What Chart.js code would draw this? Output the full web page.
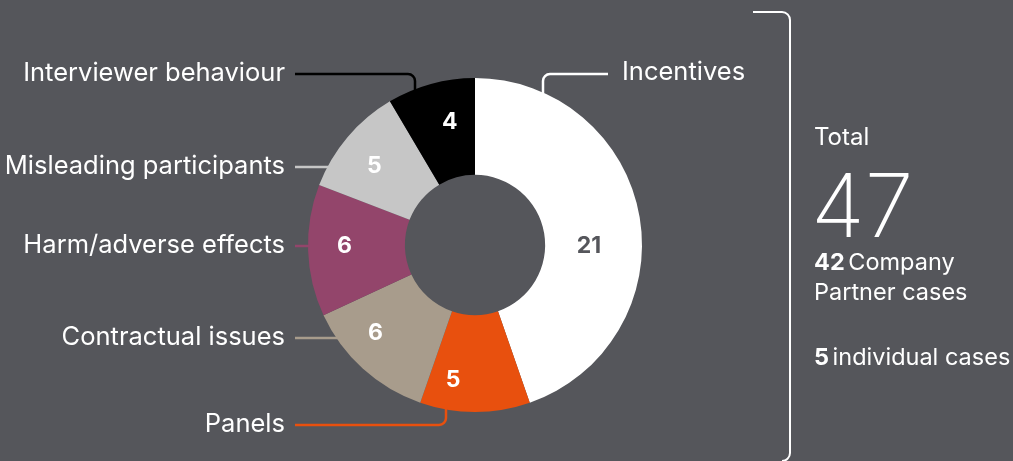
<!DOCTYPE html>
<html>
<head>
<meta charset="utf-8">
<script src="https://cdn.jsdelivr.net/npm/chart.js@4"></script>
<style>
  html, body { margin: 0; padding: 0; background: #55565b; overflow: hidden; }
  #wrap { position: relative; width: 1013px; height: 461px; }
  canvas { position: absolute; left: 0; top: 0; }
</style>
</head>
<body>
<div id="wrap"><canvas id="donut" width="1013" height="461"></canvas></div>
<script>
var categories = ["Incentives", "Panels", "Contractual issues", "Harm/adverse effects", "Misleading participants", "Interviewer behaviour"];
var cases = [21, 5, 6, 6, 5, 4];
var colours = ["#ffffff", "#e8500e", "#a89c8c", "#93456b", "#c6c6c6", "#000000"];
var totalLabel = "Total";
var totalCases = 47;
var companyCases = 42;
var individualCases = 5;

var FONT = "Inter, 'Noto Sans', sans-serif";
var BG = "#55565b";

// nudges for the value labels, from the centre of each slice
var valueNudge = [[-3, 21], [-22, 17], [-20, 0], [-12, -3], [-10, -2], [6, -9]];
// where each category name sits and how its line runs
var leaders = [
  { side: "right", y: 74, elbowX: 543, lineEnd: 608, textX: 622 },
  { side: "left", y: 425, elbowX: 446 },
  { side: "left", y: 338 },
  { side: "left", y: 246 },
  { side: "left", y: 167 },
  { side: "left", y: 74, elbowX: 415, up: true }
];

function circleY(cx, cy, r, x, below) {
  var d = Math.sqrt(Math.max(r * r - (x - cx) * (x - cx), 0));
  return below ? cy + d : cy - d;
}
function circleX(cx, cy, r, y) {
  return cx - Math.sqrt(Math.max(r * r - (y - cy) * (y - cy), 0));
}

var annotate = {
  id: "annotate",
  afterDatasetsDraw: function (chart) {
    var ctx = chart.ctx;
    var arcs = chart.getDatasetMeta(0).data;
    var cx = arcs[0].x, cy = arcs[0].y, R = arcs[0].outerRadius;

    // numbers inside slices
    ctx.save();
    ctx.font = "bold 23px " + FONT;
    ctx.textAlign = "center";
    ctx.textBaseline = "middle";
    arcs.forEach(function (arc, i) {
      var p = arc.getProps(["startAngle", "endAngle", "innerRadius", "outerRadius"]);
      var a = (p.startAngle + p.endAngle) / 2;
      var r = (p.innerRadius + p.outerRadius) / 2;
      var x = cx + Math.cos(a) * r + valueNudge[i][0];
      var y = cy + Math.sin(a) * r + valueNudge[i][1];
      ctx.fillStyle = i === 0 ? BG : "#ffffff";
      ctx.fillText(String(cases[i]), x, y);
    });
    ctx.restore();

    // leader lines + category names
    ctx.save();
    ctx.lineWidth = 2.5;
    ctx.font = "25.5px " + FONT;
    ctx.textBaseline = "middle";
    leaders.forEach(function (l, i) {
      ctx.strokeStyle = colours[i];
      ctx.beginPath();
      if (l.side === "right") {
        var y0 = circleY(cx, cy, R, l.elbowX, false) + 2;
        ctx.moveTo(l.elbowX, y0);
        ctx.arcTo(l.elbowX, l.y, l.lineEnd, l.y, 7);
        ctx.lineTo(l.lineEnd, l.y);
        ctx.stroke();
        ctx.fillStyle = "#ffffff";
        ctx.textAlign = "left";
        ctx.fillText(categories[i], l.textX, l.y - 2);
        return;
      }
      ctx.moveTo(295, l.y);
      if (l.elbowX) {
        var below = !l.up;
        var yEnd = circleY(cx, cy, R, l.elbowX, below) + (below ? -2 : 2);
        ctx.arcTo(l.elbowX, l.y, l.elbowX, yEnd, 7);
        ctx.lineTo(l.elbowX, yEnd);
      } else {
        ctx.lineTo(circleX(cx, cy, R, l.y) + 2, l.y);
      }
      ctx.stroke();
      ctx.fillStyle = "#ffffff";
      ctx.textAlign = "right";
      ctx.fillText(categories[i], 285, l.y - 1);
    });
    ctx.restore();

    // bracket and totals
    ctx.save();
    ctx.strokeStyle = "#ffffff";
    ctx.lineWidth = 2;
    ctx.beginPath();
    ctx.moveTo(753, 12);
    ctx.arcTo(790, 12, 790, 461, 8);
    ctx.lineTo(790, 453);
    ctx.arcTo(790, 461, 780, 461, 8);
    ctx.stroke();

    ctx.fillStyle = "#ffffff";
    ctx.textAlign = "left";
    ctx.textBaseline = "alphabetic";
    ctx.font = "24px " + FONT;
    ctx.fillText(totalLabel, 814, 145);
    ctx.font = "200 88px " + FONT;
    ctx.fillText(String(totalCases), 811, 237);
    var x;
    ctx.font = "bold 23.5px " + FONT;
    ctx.fillText(String(companyCases), 814, 270);
    x = 814 + ctx.measureText(String(companyCases) + " ").width - 2;
    ctx.font = "23.5px " + FONT;
    ctx.fillText("Company", x, 270);
    ctx.fillText("Partner cases", 814, 300);
    ctx.font = "bold 23.5px " + FONT;
    ctx.fillText(String(individualCases), 814, 365);
    x = 814 + ctx.measureText(String(individualCases) + " ").width - 2;
    ctx.font = "23.5px " + FONT;
    ctx.fillText("individual cases", x, 365);
    ctx.restore();
  }
};

new Chart(document.getElementById("donut"), {
  type: "doughnut",
  data: {
    labels: categories,
    datasets: [{
      data: cases,
      backgroundColor: colours,
      borderWidth: 0
    }]
  },
  options: {
    responsive: false,
    animation: false,
    devicePixelRatio: 1,
    cutout: "42%",
    layout: { padding: { left: 308, right: 371, top: 78, bottom: 49 } },
    plugins: { legend: { display: false }, tooltip: { enabled: false } }
  },
  plugins: [annotate]
});
</script>
</body>
</html>
